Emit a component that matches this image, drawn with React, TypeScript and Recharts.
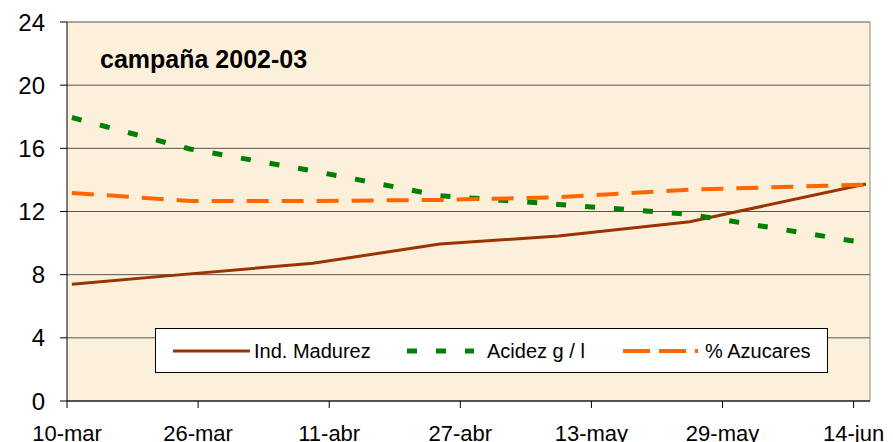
import { LineChart, Line, XAxis, YAxis, CartesianGrid, ReferenceLine } from 'recharts';

// days counted from 10-mar
const sampleDays = [0.6, 15, 30, 45.5, 60, 76, 97.5];
const madurez = [7.4, 8.05, 8.72, 9.94, 10.45, 11.35, 13.74];
const acidez = [17.95, 15.96, 14.57, 13.0, 12.45, 11.82, 10.0];
const azucares = [13.17, 12.67, 12.67, 12.73, 12.9, 13.38, 13.7];

const xTickDays = [0, 16, 32, 48, 64, 80, 96];
const xTickLabels = ['10-mar', '26-mar', '11-abr', '27-abr', '13-may', '29-may', '14-jun'];
const yTicks = [0, 4, 8, 12, 16, 20, 24];

const series = [
  { key: 'madurez', name: 'Ind. Madurez', color: '#993300', width: 3, dash: undefined as string | undefined },
  { key: 'acidez', name: 'Acidez g / l', color: '#008000', width: 5, dash: '10 19' },
  { key: 'azucares', name: '% Azucares', color: '#FF6600', width: 4, dash: '22 13' },
];

const data = sampleDays.map((day, i) => ({
  day,
  madurez: madurez[i],
  acidez: acidez[i],
  azucares: azucares[i],
}));

const FONT = '"Liberation Sans", Arial, sans-serif';

// legend box drawn over the plot, like the original
const LegendBox = () => (
  <svg width={673} height={45} style={{ display: 'block' }}>
    <rect x={0.5} y={0.5} width={672} height={44} fill="#fff" stroke="#000" />
    <line x1={18} y1={23} x2={95} y2={23} stroke="#993300" strokeWidth={3} />
    <text x={99} y={30} fontSize={20} fontFamily={FONT} fill="#000">Ind. Madurez</text>
    <line x1={252} y1={23} x2={319} y2={23} stroke="#008000" strokeWidth={5} strokeDasharray="10 19" />
    <text x={332} y={30} fontSize={20} fontFamily={FONT} fill="#000">Acidez g / l</text>
    <line x1={468} y1={23} x2={543} y2={23} stroke="#FF6600" strokeWidth={4} strokeDasharray="27 9" />
    <text x={550} y={30} fontSize={20} fontFamily={FONT} fill="#000">% Azucares</text>
  </svg>
);

export default function App() {
  return (
    <div style={{ position: 'absolute', left: 0, top: 0, width: 893, height: 442, background: '#fff', fontFamily: FONT }}>
      <LineChart width={893} height={442} data={data} margin={{ top: 22, right: 23, bottom: 0, left: 0 }}>
        <CartesianGrid vertical={false} stroke="#555" fill="#FCF0DA" fillOpacity={1} />
        <XAxis
          type="number"
          dataKey="day"
          domain={[0, 98]}
          ticks={xTickDays}
          tickFormatter={(v: number) => xTickLabels[xTickDays.indexOf(v)] ?? ''}
          height={41}
          tickSize={7}
          tickMargin={17}
          stroke="#000"
          tick={{ fill: '#000', fontSize: 22, fontFamily: FONT }}
          interval={0}
        />
        <YAxis
          domain={[0, 24]}
          ticks={yTicks}
          width={67}
          tickSize={7}
          tickMargin={15}
          stroke="#000"
          tick={{ fill: '#000', fontSize: 24, fontFamily: FONT }}
          interval={0}
        />
        <ReferenceLine x={98} stroke="#888" />
        {series.map((s) => (
          <Line
            key={s.key}
            type="linear"
            dataKey={s.key}
            name={s.name}
            stroke={s.color}
            strokeWidth={s.width}
            strokeDasharray={s.dash}
            dot={false}
            isAnimationActive={false}
          />
        ))}
      </LineChart>
      <div style={{ position: 'absolute', left: 155, top: 328 }}>
        <LegendBox />
      </div>
      <div
        style={{
          position: 'absolute',
          left: 100,
          top: 44,
          fontSize: 25,
          fontWeight: 'bold',
          lineHeight: '30px',
          color: '#000',
          whiteSpace: 'nowrap',
        }}
      >
        campaña 2002-03
      </div>
    </div>
  );
}
